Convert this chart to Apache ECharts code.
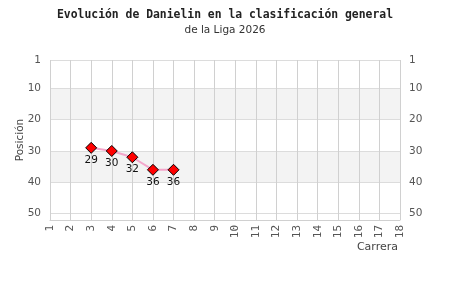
<!DOCTYPE html>
<html><head><meta charset="utf-8">
<script src="https://cdn.jsdelivr.net/npm/echarts@6/dist/echarts.min.js"></script>
<style>html,body{margin:0;padding:0;background:#fff}#c{width:450px;height:300px}</style>
</head><body><div id="c"></div>
<script>
const titleText = 'Evolución de Danielin en la clasificación general';
const subtitleText = 'de la Liga 2026';
const races = [3, 4, 5, 6, 7];
const positions = [29, 30, 32, 36, 36];
const yTicks = [1, 10, 20, 30, 40, 50];
const xName = 'Carrera';
const yName = 'Posición';

const chart = echarts.init(document.getElementById('c'), null, {renderer: 'canvas'});
const yAxisBase = {
  type: 'value', inverse: true, min: 1, max: 52,
  axisLine: {show: false}, axisTick: {show: false, customValues: yTicks},
  axisLabel: {customValues: yTicks, color: '#555', fontSize: 10.5, fontFamily: 'DejaVu Sans', margin: 9}
};
chart.setOption({
  animation: false,
  backgroundColor: '#fff',
  title: {
    text: titleText, subtext: subtitleText, left: 'center', top: 5, itemGap: 4,
    textStyle: {fontFamily: 'DejaVu Sans Mono', fontWeight: 'bold', fontSize: 11.4, color: '#222'},
    subtextStyle: {fontFamily: 'DejaVu Sans', fontSize: 10.5, color: '#333'}
  },
  grid: {left: 50, right: 50, top: 60, bottom: 80, containLabel: false},
  xAxis: {
    type: 'value', min: 1, max: 18, interval: 1,
    name: xName, nameLocation: 'end', nameGap: -2, nameMoveOverlap: false,
    nameTextStyle: {align: 'right', verticalAlign: 'top', padding: [22, 0, 0, 0], color: '#444', fontSize: 11, fontFamily: 'DejaVu Sans'},
    axisLine: {show: true, lineStyle: {color: '#d0d0d0'}}, axisTick: {show: false},
    axisLabel: {rotate: 90, color: '#555', fontSize: 11, fontFamily: 'DejaVu Sans Mono', margin: 5},
    splitLine: {show: true, lineStyle: {color: '#d0d0d0', width: 1}}
  },
  yAxis: [
    Object.assign({}, yAxisBase, {
      position: 'left', name: yName, nameLocation: 'middle', nameGap: 24, nameMoveOverlap: false,
      nameTextStyle: {color: '#444', fontSize: 10.5, fontFamily: 'DejaVu Sans'},
      splitLine: {show: true, lineStyle: {color: '#dcdcdc'}},
      splitArea: {show: true, areaStyle: {color: ['#ffffff', '#f3f3f3']}}
    }),
    Object.assign({}, yAxisBase, {position: 'right', splitLine: {show: false}})
  ],
  series: [{
    type: 'line', data: races.map((r, i) => [r, positions[i]]),
    lineStyle: {color: '#f4a6cb', width: 2},
    symbol: 'diamond', symbolSize: 11,
    itemStyle: {color: '#ff0000', borderColor: '#000', borderWidth: 1},
    label: {show: true, position: 'bottom', distance: 1, color: '#111', fontSize: 10.5, fontFamily: 'DejaVu Sans'}
  }]
});
</script></body></html>
